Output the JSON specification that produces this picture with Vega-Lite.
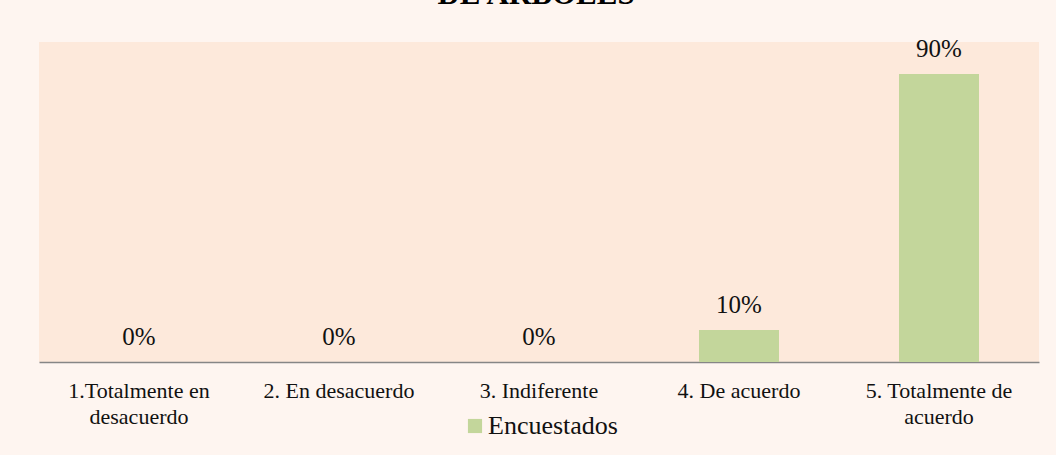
{
  "$schema": "https://vega.github.io/schema/vega-lite/v6.json",
  "width": 1000,
  "height": 320,
  "autosize": {"type": "none"},
  "padding": {"left": 39, "top": 42, "right": 17, "bottom": 93},
  "background": "#FEF5F0",
  "title": {
    "text": "DE ARBOLES",
    "font": "Liberation Serif",
    "fontSize": 31,
    "fontWeight": "bold",
    "color": "#000000",
    "anchor": "middle",
    "baseline": "bottom",
    "offset": 0,
    "dx": -3,
    "dy": 5
  },
  "data": {
    "values": [
      {"cat": "1.Totalmente en desacuerdo", "pct": 0.0, "serie": "Encuestados"},
      {"cat": "2. En desacuerdo", "pct": 0.0, "serie": "Encuestados"},
      {"cat": "3. Indiferente", "pct": 0.0, "serie": "Encuestados"},
      {"cat": "4. De acuerdo", "pct": 0.1, "serie": "Encuestados"},
      {"cat": "5. Totalmente de acuerdo", "pct": 0.9, "serie": "Encuestados"}
    ]
  },
  "encoding": {
    "x": {
      "field": "cat",
      "type": "nominal",
      "sort": null,
      "scale": {"paddingInner": 0.6, "paddingOuter": 0.3},
      "axis": {
        "title": null,
        "labelAngle": 0,
        "ticks": false,
        "domainColor": "#868686",
        "domainWidth": 1.5,
        "labelFont": "Liberation Serif",
        "labelFontSize": 22,
        "labelColor": "#111111",
        "labelPadding": 18,
        "labelLineHeight": 26,
        "labelBaseline": "top",
        "labelLimit": 300,
        "labelExpr": "datum.label == '1.Totalmente en desacuerdo' ? ['1.Totalmente en', 'desacuerdo'] : datum.label == '5. Totalmente de acuerdo' ? ['5. Totalmente de', 'acuerdo'] : datum.label"
      }
    },
    "y": {
      "field": "pct",
      "type": "quantitative",
      "scale": {"domain": [0, 1]},
      "axis": null
    }
  },
  "layer": [
    {
      "mark": {"type": "bar"},
      "encoding": {
        "color": {
          "field": "serie",
          "type": "nominal",
          "scale": {"range": ["#C3D69B"]},
          "legend": {
            "title": null,
            "orient": "none",
            "legendX": 423,
            "legendY": 371,
            "padding": 0,
            "symbolType": "square",
            "symbolSize": 200,
            "symbolStrokeWidth": 0,
            "symbolOpacity": 1,
            "labelFont": "Liberation Serif",
            "labelFontSize": 26,
            "labelColor": "#111111",
            "labelOffset": 0
          }
        }
      }
    },
    {
      "mark": {
        "type": "text",
        "font": "Liberation Serif",
        "fontSize": 25,
        "color": "#111111",
        "baseline": "alphabetic",
        "dy": -17
      },
      "encoding": {
        "text": {"field": "pct", "type": "quantitative", "format": ".0%"}
      }
    }
  ],
  "config": {
    "view": {"fill": "#FDE9DB", "stroke": null}
  }
}
